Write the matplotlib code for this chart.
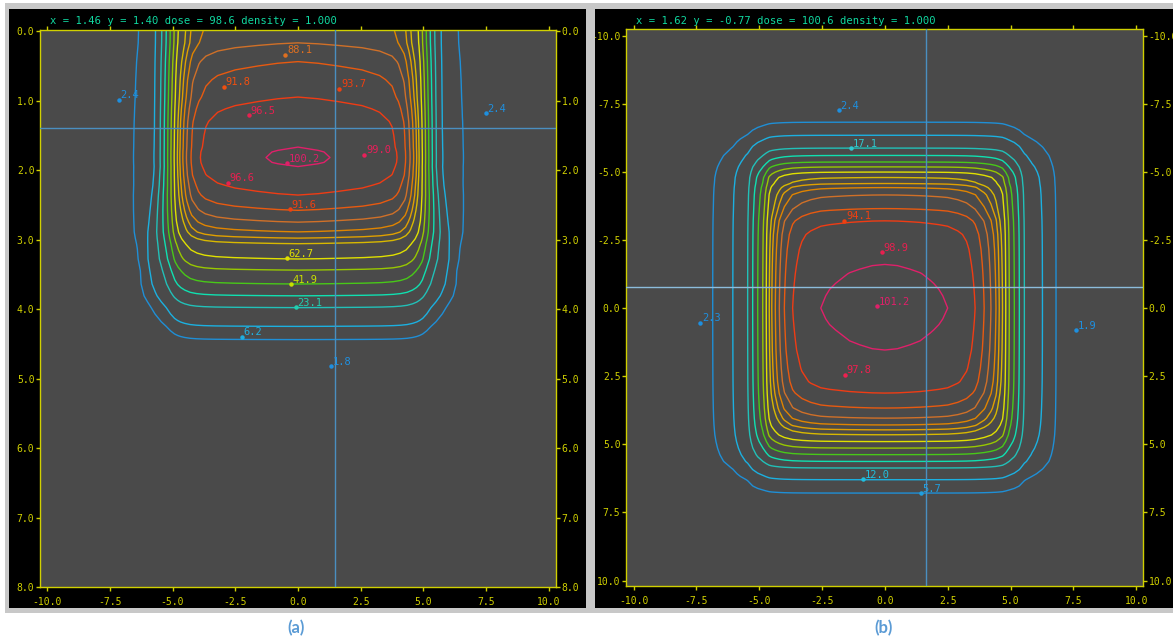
import numpy as np
import matplotlib.pyplot as plt
from matplotlib.patches import Rectangle
from matplotlib.ticker import FormatStrFormatter, MultipleLocator

# ---------------------------------------------------------------
# datos
# ---------------------------------------------------------------

# isodosis (%) y su color
niveles = [5, 10, 20, 30, 40, 50, 60, 70, 75, 80, 85, 90, 95, 100]
colores_niveles = ['#1f8fd6', '#1cb0e0', '#22c0b8', '#10e0b0', '#48c818',
                   '#98c800', '#e0e000', '#d8b800', '#e0a000', '#e08400',
                   '#d07028', '#e85a10', '#f03c14', '#e0206a']

# (a) dosis en el eje central vs profundidad
prof_a = [0.0, 0.17, 0.44, 0.7, 0.95, 1.12, 1.3, 1.5, 1.67, 1.74, 1.82, 1.89, 1.95,
          2.08, 2.22, 2.36, 2.58, 2.75, 2.89, 2.98, 3.06, 3.28, 3.44, 3.64, 3.81,
          3.98, 4.25, 4.44, 4.83, 5.5, 8.0]
pdd_a = [84, 85, 90, 93, 95, 97, 98.6, 99.5, 100, 100.45, 100.6, 100.45, 100,
         98.8, 97, 95, 90, 85, 80, 75, 70, 60, 50, 40, 30,
         20, 10, 5, 1.8, 1.0, 0.6]
# ensanchamiento de la penumbra con la profundidad (0 = perfil superficial, 1 = profundo)
peso_a = [0, 0, 0, 0, 0, 0, 0, 0, 0, 0, 0, 0, 0,
          0.05, 0.1, 0.18, 0.3, 0.4, 0.5, 0.55, 0.6, 0.72, 0.82, 0.92, 1,
          1, 1, 1, 1, 1, 1]

# (a) perfil lateral relativo (%) y posicion de cada valor a poca y a mucha profundidad
oar_a = [0.4, 1.2, 2.5, 5.1, 7.5, 10.1, 20, 30, 40, 50, 60, 70, 76, 81, 86, 91, 94,
         96, 97.5, 98.5, 99.2, 99.7, 100, 99.7, 99.2, 98.5, 97.5, 96, 94, 91, 86,
         81, 76, 70, 60, 50, 40, 30, 20, 10.1, 7.5, 5.1, 2.5, 1.2, 0.4]
x_a_sup = [-10.3, -8.5, -7.2, -6.52, -6.05, -5.72, -5.49, -5.33, -5.19, -5.06, -4.93,
           -4.80, -4.68, -4.55, -4.40, -4.20, -3.95, -3.67, -3.2, -2.5, -1.6, -0.8,
           0.0, 0.8, 1.6, 2.55, 3.25, 3.75, 4.0, 4.23, 4.42, 4.57, 4.70, 4.82, 4.95,
           5.08, 5.21, 5.35, 5.51, 5.75, 6.1, 6.55, 7.4, 8.5, 10.3]
x_a_prof = [-10.3, -8.8, -7.7, -6.9, -6.6, -6.4, -6.0, -5.7, -5.45, -5.25, -5.08,
            -4.92, -4.80, -4.68, -4.52, -4.30, -4.05, -3.75, -3.3, -2.6, -1.7, -0.85,
            0.0, 0.85, 1.7, 2.65, 3.35, 3.8, 4.1, 4.35, 4.57, 4.73, 4.85, 4.97, 5.13,
            5.3, 5.5, 5.75, 6.05, 6.45, 6.65, 6.95, 7.75, 8.8, 10.3]

# (b) perfiles en el plano transversal (dosis sobre y = 0 y sobre x = 0)
x_b = [-10.3, -9.0, -7.5, -6.85, -6.45, -6.05, -5.75, -5.46, -5.26, -5.06, -4.86,
       -4.72, -4.60, -4.50, -4.36, -4.20, -4.00, -3.67, -3.3, -2.95, -2.55, -2.2,
       -1.8, -1.4, -1.0, -0.5, 0.0, 0.5, 1.0, 1.4, 1.8, 2.15, 2.5, 2.9, 3.25, 3.59,
       3.95, 4.22, 4.42, 4.55, 4.68, 4.81, 4.95, 5.15, 5.35, 5.55, 5.85, 6.27, 6.55,
       6.81, 7.7, 9.0, 10.3]
perfil_bx = [0.5, 1.0, 2.3, 5, 7.3, 10, 14.5, 20, 30, 40, 50,
             60, 70, 75, 80, 85, 90, 95, 97.6, 99.0, 100, 100.35,
             100.6, 100.85, 101.0, 101.15, 101.2, 101.15, 101.0, 100.85, 100.6, 100.35,
             100, 99.0, 97.6, 95, 90, 85, 80, 75, 70, 60, 50, 40, 30, 20, 14.5, 10,
             7.3, 5, 1.9, 1.0, 0.5]
y_b = [-10.3, -8.5, -7.4, -6.82, -6.55, -6.34, -6.1, -5.87, -5.60, -5.36, -5.18,
       -4.99, -4.79, -4.57, -4.42, -4.15, -3.65, -3.20, -2.7, -2.15, -1.60, -1.25,
       -0.9, -0.45, 0.0, 0.4, 0.8, 1.2, 1.54, 2.2, 2.7, 3.12, 3.67, 4.04, 4.29,
       4.47, 4.65, 4.90, 5.14, 5.38, 5.63, 5.87, 6.08, 6.30, 6.55, 6.79, 8.0, 10.3]
perfil_by = [0.5, 1.2, 2.4, 5, 7.3, 10, 14.5, 20, 30, 40, 50,
             60, 70, 75, 80, 85, 90, 95, 97.8, 99.2, 100, 100.4,
             100.7, 101.0, 101.2, 101.0, 100.7, 100.35, 100, 98.8, 97.4, 95, 90, 85, 80,
             75, 70, 60, 50, 40, 30, 20, 14.5, 10, 7.3, 5, 1.5, 0.5]

# puntos marcados con su dosis
pts_a_x = [-7.13, 7.49, -0.5, -2.96, 1.65, -1.96, -0.45, 2.64, -2.8, -0.32, -0.44, -0.28, -0.08, -2.24, 1.31]
pts_a_y = [0.99, 1.18, 0.34, 0.80, 0.83, 1.21, 1.90, 1.78, 2.18, 2.56, 3.27, 3.64, 3.97, 4.40, 4.82]
pts_a_txt = ['2.4', '2.4', '88.1', '91.8', '93.7', '96.5', '100.2', '99.0', '96.6',
             '91.6', '62.7', '41.9', '23.1', '6.2', '1.8']
pts_a_col = ['#1e90e0', '#1e90e0', '#e07020', '#f05010', '#f04010', '#e82050',
             '#e0206a', '#e8205a', '#e82050', '#f04010', '#e0e000', '#c8e000',
             '#20d0b0', '#20b0e0', '#2090e0']

pts_b_x = [-1.84, -1.34, -1.61, -0.13, -0.33, -1.58, -0.88, 1.44, -7.34, 7.61]
pts_b_y = [-7.25, -5.87, -3.20, -2.06, -0.07, 2.45, 6.27, 6.79, 0.54, 0.81]
pts_b_txt = ['2.4', '17.1', '94.1', '98.9', '101.2', '97.8', '12.0', '5.7', '2.3', '1.9']
pts_b_col = ['#1e90e0', '#30c8d0', '#f04010', '#e82050', '#e0206a', '#f02050',
             '#20c0e0', '#20a0e0', '#1e90e0', '#1e90e0']

W, H = 1173, 642
AMARILLO = '#d0d000'
MONO = 'DejaVu Sans Mono'


def caja(x0, y0, x1, y1):
    """Pixeles (origen arriba-izquierda) -> fracciones de figura."""
    return [x0 / W, 1 - y1 / H, (x1 - x0) / W, (y1 - y0) / H]


def rect(fig, x0, y0, x1, y1, color, z):
    l, b, w, h = caja(x0, y0, x1, y1)
    fig.add_artist(Rectangle((l, b), w, h, transform=fig.transFigure,
                             facecolor=color, edgecolor='none', zorder=z))


def estilo_ejes(ax):
    ax.set_facecolor('#4a4a4a')
    for s in ax.spines.values():
        s.set_color(AMARILLO)
        s.set_linewidth(1.0)
    ax.tick_params(which='both', direction='out', length=3, width=1,
                   color=AMARILLO, labelcolor=AMARILLO, labelsize=7,
                   top=True, right=True, labelright=True, labeltop=False, pad=1)
    ax.tick_params(axis='x', pad=4)
    for lab in ax.get_xticklabels() + ax.get_yticklabels():
        lab.set_family(MONO)
    ax.xaxis.set_major_locator(MultipleLocator(2.5))
    ax.xaxis.set_major_formatter(FormatStrFormatter('%.1f'))
    ax.yaxis.set_major_formatter(FormatStrFormatter('%.1f'))


def puntos(ax, xs, ys, txts, cols):
    for x, y, t, c in zip(xs, ys, txts, cols):
        ax.plot(x, y, 'o', ms=2.2, color=c, zorder=5)
        ax.annotate(t, (x, y), xytext=(1.2, 1.0), textcoords='offset points',
                    color=c, fontsize=7.5, family=MONO, va='baseline', ha='left', zorder=5)


fig = plt.figure(figsize=(W / 100, H / 100), dpi=100)
fig.patch.set_facecolor('white')

# marcos de la captura
rect(fig, 5, 3, W, 613, '#c8c8c8', -10)
rect(fig, 9, 9, 586, 608, 'black', -9)
rect(fig, 595, 9, W, 608, 'black', -9)
rect(fig, 586, 3, 595, 613, '#c8c8c8', 10)

# ---------------- panel (a) ----------------
ax1 = fig.add_axes(caja(40, 30, 556, 587))
estilo_ejes(ax1)
xs, xp, w = np.array(x_a_sup), np.array(x_a_prof), np.array(peso_a)
X_a = xs[None, :] + (xp - xs)[None, :] * w[:, None]
Z_a = np.repeat(np.array(prof_a)[:, None], len(oar_a), axis=1)
dosis_a = np.outer(pdd_a, oar_a) / 100.0
ax1.contour(X_a, Z_a, dosis_a, levels=niveles, colors=colores_niveles, linewidths=1.0)
ax1.axvline(1.46, color='#4a8fc0', lw=1.0, zorder=3)
ax1.axhline(1.40, color='#4a8fc0', lw=1.0, zorder=3)
puntos(ax1, pts_a_x, pts_a_y, pts_a_txt, pts_a_col)
ax1.set_xlim(-10.28, 10.28)
ax1.set_ylim(8.0, -0.015)
ax1.yaxis.set_major_locator(MultipleLocator(1.0))

# ---------------- panel (b) ----------------
ax2 = fig.add_axes(caja(626, 29, 1143, 586))
estilo_ejes(ax2)
centro = max(perfil_bx)
fx = np.sqrt(np.array(perfil_bx) / centro)
fy = np.sqrt(np.array(perfil_by) / centro)
# campo cuadrado: combinacion de los dos perfiles con esquinas redondeadas
dosis_b = centro / (1.0 / fy[:, None] + 1.0 / fx[None, :] - 1.0) ** 2
ax2.contour(x_b, y_b, dosis_b, levels=niveles, colors=colores_niveles, linewidths=1.0)
ax2.axvline(1.62, color='#4a8fc0', lw=1.0, zorder=3)
ax2.axhline(-0.77, color='#8cbcdc', lw=1.0, zorder=3)
puntos(ax2, pts_b_x, pts_b_y, pts_b_txt, pts_b_col)
ax2.set_xlim(-10.3, 10.27)
ax2.set_ylim(10.2, -10.24)
ax2.yaxis.set_major_locator(MultipleLocator(2.5))

# lectura del cursor
fig.text(50 / W, 1 - 21 / H, 'x = 1.46 y = 1.40 dose = 98.6 density = 1.000',
         color='#10d8a0', fontsize=7.6, family=MONO, va='center', ha='left')
fig.text(636 / W, 1 - 21 / H, 'x = 1.62 y = -0.77 dose = 100.6 density = 1.000',
         color='#10d8a0', fontsize=7.6, family=MONO, va='center', ha='left')

# rotulos
fig.text(296 / W, 1 - 628 / H, '(a)', color='#5b9bd5', fontsize=12,
         family='Lato', weight='bold', ha='center', va='center')
fig.text(884 / W, 1 - 628 / H, '(b)', color='#5b9bd5', fontsize=12,
         family='Lato', weight='bold', ha='center', va='center')

fig.savefig('out.png', dpi=100)
